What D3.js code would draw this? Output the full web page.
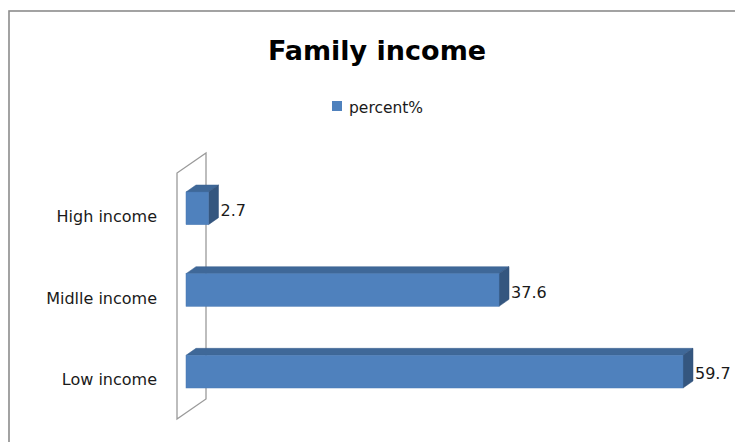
<!DOCTYPE html>
<html>
<head>
<meta charset="utf-8">
<script src="https://cdn.jsdelivr.net/npm/d3@7"></script>
<style>
body { margin: 0; background: #fff; }
text { font-family: "DejaVu Sans", sans-serif; fill: #1a1a1a; }
</style>
</head>
<body>
<script>
// chart data
var categories = ["High income", "Midlle income", "Low income"]
var values = [2.7, 37.6, 59.7]
var seriesName = "percent%"
var title = "Family income"

var W = 735, H = 442
var svg = d3.select("body").append("svg").attr("width", W).attr("height", H)

// outer chart frame (runs off the right and bottom edges)
svg.append("rect").attr("x", 9).attr("y", 11).attr("width", 760).attr("height", 460)
    .attr("fill", "#fff").attr("stroke", "#8c8c8c").attr("stroke-width", 1.6)

// scales
var x = d3.scaleLinear().domain([0, 60]).range([186, 186 + 8.325 * 60])
var y = d3.scaleBand().domain(categories).range([167.5, 412.5]).paddingInner(0.6).paddingOuter(0.3)

// 3d depth offsets
var dx = 10, dy = -7
var wdx = 29, wdy = -20

// back wall
var wallX = 177, wallTop = 173, wallBottom = 419
svg.append("path")
    .attr("d", "M" + wallX + "," + wallBottom + "L" + wallX + "," + wallTop +
        "L" + (wallX + wdx) + "," + (wallTop + wdy) + "L" + (wallX + wdx) + "," + (wallBottom + wdy) + "Z")
    .attr("fill", "none").attr("stroke", "#9a9a9a").attr("stroke-width", 1.3)

// title
svg.append("text").attr("x", 377).attr("y", 60).attr("text-anchor", "middle")
    .style("font-size", "27px").style("font-weight", "bold").style("fill", "#000").text(title)

// legend
svg.append("rect").attr("x", 332).attr("y", 101).attr("width", 10).attr("height", 10).attr("fill", "#4f81bd")
svg.append("text").attr("x", 349).attr("y", 113).style("font-size", "15.5px").text(seriesName)

// bars
var data = categories.map(function(c, i) { return {cat: c, v: values[i]} })
var bars = svg.selectAll("g.bar").data(data).enter().append("g").attr("class", "bar")

// top face
bars.append("path").attr("d", function(d) {
    var x0 = x(0), x1 = x(d.v), y0 = y(d.cat)
    return "M" + x0 + "," + y0 + "L" + (x0 + dx) + "," + (y0 + dy) + "L" + (x1 + dx) + "," + (y0 + dy) + "L" + x1 + "," + y0 + "Z"
}).attr("fill", "#3f6898").attr("stroke", "#3a6190").attr("stroke-width", 0.5)

// side face
bars.append("path").attr("d", function(d) {
    var x1 = x(d.v), y0 = y(d.cat), y1 = y0 + y.bandwidth()
    return "M" + x1 + "," + y0 + "L" + (x1 + dx) + "," + (y0 + dy) + "L" + (x1 + dx) + "," + (y1 + dy) + "L" + x1 + "," + y1 + "Z"
}).attr("fill", "#34567f").attr("stroke", "#30507a").attr("stroke-width", 0.5)

// front face
bars.append("rect").attr("x", x(0)).attr("y", function(d) { return y(d.cat) })
    .attr("width", function(d) { return x(d.v) - x(0) }).attr("height", y.bandwidth())
    .attr("fill", "#4f81bd").attr("stroke", "#4a7ab4").attr("stroke-width", 0.5)

// value labels
bars.append("text").attr("x", function(d) { return x(d.v) + dx + 2 })
    .attr("y", function(d) { return y(d.cat) + y.bandwidth() / 2 + 2 }).attr("dy", "0.35em")
    .style("font-size", "16px").text(function(d) { return d.v })

// category labels
svg.selectAll("text.cat").data(categories).enter().append("text").attr("class", "cat")
    .attr("x", 157).attr("y", function(d) { return y(d) + y.bandwidth() / 2 + 8 }).attr("dy", "0.35em")
    .attr("text-anchor", "end").style("font-size", "16px").text(function(d) { return d })
</script>
</body>
</html>
